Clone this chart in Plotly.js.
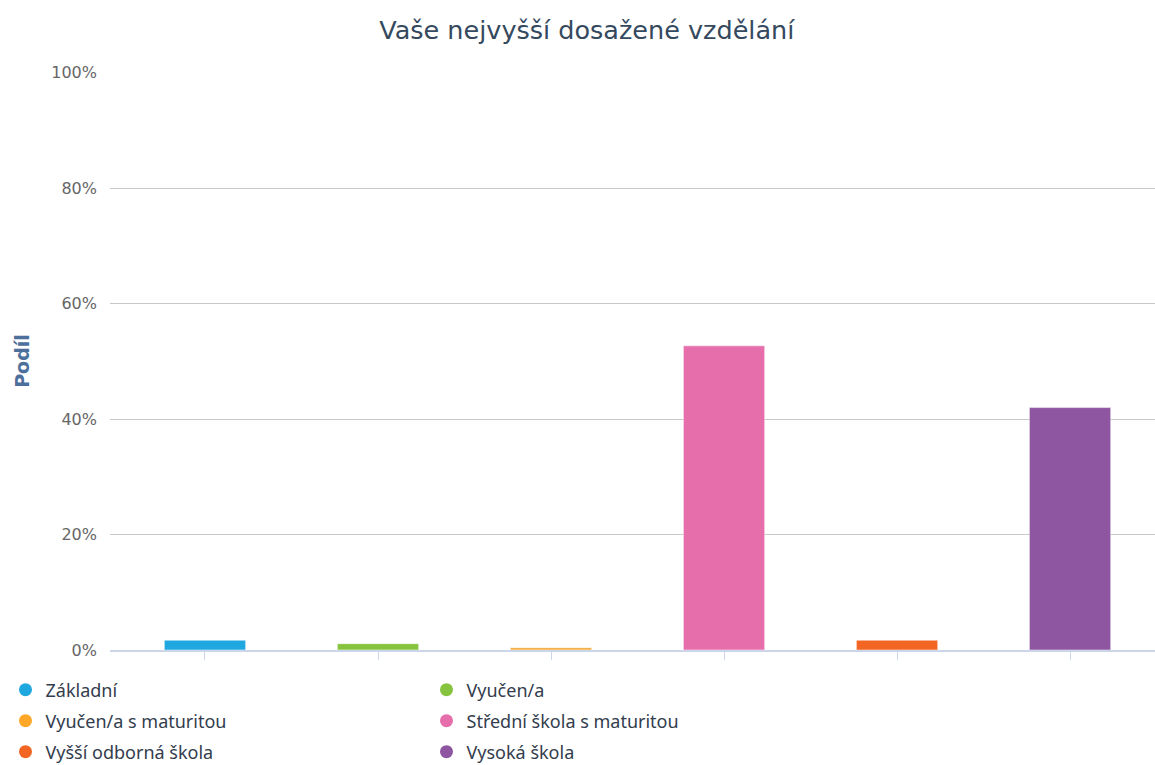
<!DOCTYPE html>
<html>
<head>
<meta charset="utf-8">
<script src="https://cdn.plot.ly/plotly-3.0.1.min.js"></script>
<style>html,body{margin:0;padding:0;background:#fff;}#chart{width:1155px;height:765px;}</style>
</head>
<body>
<div id="chart"></div>
<script>
const categories = ["Základní", "Vyučen/a", "Vyučen/a s maturitou", "Střední škola s maturitou", "Vyšší odborná škola", "Vysoká škola"];
const values = [1.7, 1.1, 0.4, 52.7, 1.7, 42.0];
const colors = ["#1fa8e0", "#86c440", "#f5a93a", "#e66eaa", "#f26522", "#8e55a0"];
const dotColors = ["#1fa8e0", "#86c440", "#ffa726", "#e66eaa", "#f26522", "#8e55a0"];
const yTicks = [0, 20, 40, 60, 80, 100];
const yTickText = ["0%", "20%", "40%", "60%", "80%", "100%"];

const legendNames = ["legend", "legend", "legend2", "legend2", "legend3", "legend3"];

const traces = [];
categories.forEach((c, i) => {
  traces.push({
    type: "bar",
    x: [c],
    y: [values[i]],
    width: 0.47,
    marker: {color: colors[i], line: {color: "rgba(255,255,255,0.5)", width: 1}},
    showlegend: false,
    hoverinfo: "x+y"
  });
});
categories.forEach((c, i) => {
  traces.push({
    type: "scatter",
    mode: "markers",
    x: [null],
    y: [null],
    name: c,
    legend: legendNames[i],
    marker: {color: dotColors[i], size: 13, symbol: "circle"},
    showlegend: true
  });
});

const legendBase = {
  orientation: "h",
  xanchor: "left",
  yanchor: "middle",
  x: -0.1,
  entrywidth: 376,
  font: {family: "Noto Sans", size: 18, color: "#333d4d"},
  bgcolor: "rgba(0,0,0,0)",
  itemclick: false,
  itemdoubleclick: false
};

const layout = {
  width: 1155,
  height: 765,
  margin: {l: 110, r: 0, t: 72, b: 115, autoexpand: false},
  paper_bgcolor: "#fff",
  plot_bgcolor: "#fff",
  barmode: "overlay",
  title: {
    text: "Vaše nejvyšší dosažené vzdělání",
    font: {family: "DejaVu Sans", size: 25.5, color: "#34495e"},
    x: 0.508, xanchor: "center", y: 0.961, yanchor: "middle"
  },
  xaxis: {
    type: "category",
    categoryorder: "array",
    categoryarray: categories,
    range: [-0.549, 5.491],
    showticklabels: false,
    ticks: "outside",
    ticklen: 8,
    tickcolor: "#ccd6eb",
    tickwidth: 1,
    showline: true,
    linecolor: "#ccd6eb",
    linewidth: 2,
    showgrid: false,
    zeroline: false,
    fixedrange: true
  },
  yaxis: {
    range: [0, 100.15],
    tickvals: yTicks,
    ticktext: yTickText,
    showgrid: true,
    gridcolor: "#c8c8c8",
    gridwidth: 1,
    zeroline: false,
    showline: false,
    ticks: "",
    ticklabelstandoff: 12,
    tickfont: {family: "DejaVu Sans", size: 16, color: "#666666"},
    title: {text: "Podíl", font: {family: "DejaVu Sans", size: 19, color: "#4d6f9c", weight: "bold"}, standoff: 16},
    fixedrange: true
  },
  legend: Object.assign({}, legendBase, {y: -0.0692}),
  legend2: Object.assign({}, legendBase, {y: -0.1228}),
  legend3: Object.assign({}, legendBase, {y: -0.1765}),
  showlegend: true
};

Plotly.newPlot("chart", traces, layout, {displayModeBar: false, staticPlot: false});
</script>
</body>
</html>
